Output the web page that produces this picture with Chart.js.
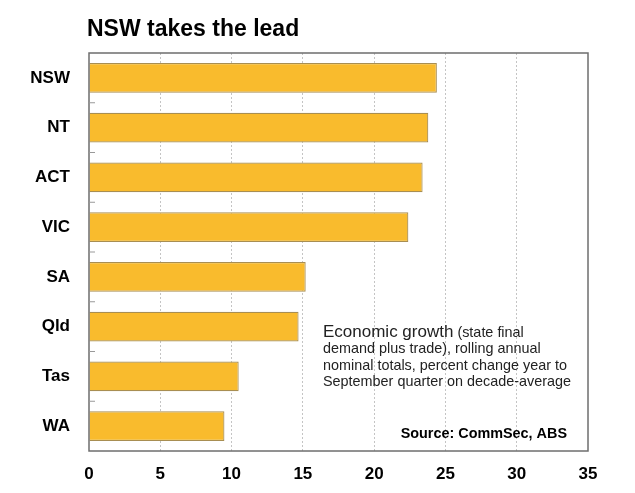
<!DOCTYPE html>
<html><head><meta charset="utf-8">
<script src="https://cdn.jsdelivr.net/npm/chart.js@4/dist/chart.umd.min.js"></script>
<style>html,body{margin:0;padding:0;background:#fff;}#wrap{width:635px;height:493px;}</style>
</head><body><div id="wrap"><canvas id="c" width="635" height="493"></canvas></div>
<script>
const categories = ["NSW","NT","ACT","VIC","SA","Qld","Tas","WA"];
const growth = [24.4, 23.8, 23.4, 22.4, 15.2, 14.7, 10.5, 9.5];
const xTicks = [0,5,10,15,20,25,30,35];
const titleText = "NSW takes the lead";
const noteLines = [["Economic growth", " (state final"],["demand plus trade), rolling annual"],["nominal totals, percent change year to"],["September quarter on decade-average"]];
const sourceText = "Source: CommSec, ABS";

const FONT = "'Liberation Sans', Arial, sans-serif";

const decor = {
  id: 'decor',
  afterDraw(chart) {
    const ctx = chart.ctx, a = chart.chartArea, y = chart.scales.y;
    ctx.save();
    // frame
    ctx.strokeStyle = '#6e6e6e'; ctx.lineWidth = 1.5;
    ctx.strokeRect(a.left, a.top, a.right - a.left, a.bottom - a.top);
    // inner tick marks at category boundaries
    ctx.strokeStyle = '#999'; ctx.lineWidth = 1;
    for (let i = 1; i < categories.length; i++) {
      const p = (y.getPixelForValue(i - 1) + y.getPixelForValue(i)) / 2;
      ctx.beginPath(); ctx.moveTo(a.left, p); ctx.lineTo(a.left + 6, p); ctx.stroke();
    }
    // title
    ctx.fillStyle = '#000'; ctx.textBaseline = 'middle'; ctx.textAlign = 'left';
    ctx.font = "bold 23px " + FONT;
    ctx.fillText(titleText, a.left - 2, 30);
    // note
    let ny = 332, nx = 323;
    noteLines.forEach((ln, i) => {
      let x = nx;
      ctx.fillStyle = '#222';
      if (i === 0) {
        ctx.font = "17px " + FONT;
        ctx.fillText(ln[0], x, ny); x += ctx.measureText(ln[0]).width;
        ctx.font = "14.4px " + FONT;
        ctx.fillText(ln[1], x, ny + 1);
      } else {
        ctx.font = "14.4px " + FONT;
        ctx.fillText(ln[0], x, ny);
      }
      ny += 16.8;
    });
    ctx.font = "bold 14.4px " + FONT; ctx.fillStyle = '#000'; ctx.textAlign = 'right';
    ctx.fillText(sourceText, 567, 434);
    ctx.restore();
  }
};

new Chart(document.getElementById('c'), {
  type: 'bar',
  data: { labels: categories, datasets: [{
    data: growth,
    backgroundColor: '#F9BB2D',
    borderColor: '#A88E52',
    borderWidth: 1.2,
    barPercentage: 0.6,
    categoryPercentage: 1.0
  }]},
  options: {
    indexAxis: 'y',
    responsive: false,
    animation: false,
    layout: { padding: { top: 53, right: 47, left: 0, bottom: 0 } },
    plugins: { legend: { display: false }, tooltip: { enabled: false }, title: { display: false } },
    scales: {
      x: {
        min: 0, max: 35,
        afterBuildTicks(s) { s.ticks = xTicks.map(v => ({ value: v })); },
        afterFit(s) { s.height = 42; },
        grid: { color: ctx => (ctx.tick && (ctx.tick.value === 0 || ctx.tick.value === 35)) ? 'rgba(0,0,0,0)' : '#c4c4c4', borderDash: [2, 2], drawTicks: false, lineWidth: 1 },
        border: { display: false, dash: [2, 2] },
        ticks: { color: '#000', font: { family: FONT, size: 17, weight: 'bold' }, padding: 13 }
      },
      y: {
        afterFit(s) { s.width = 89; },
        grid: { display: false, drawTicks: false },
        border: { display: false },
        ticks: { color: '#000', font: { family: FONT, size: 17, weight: 'bold' }, padding: 19 }
      }
    }
  },
  plugins: [decor]
});
</script></body></html>
